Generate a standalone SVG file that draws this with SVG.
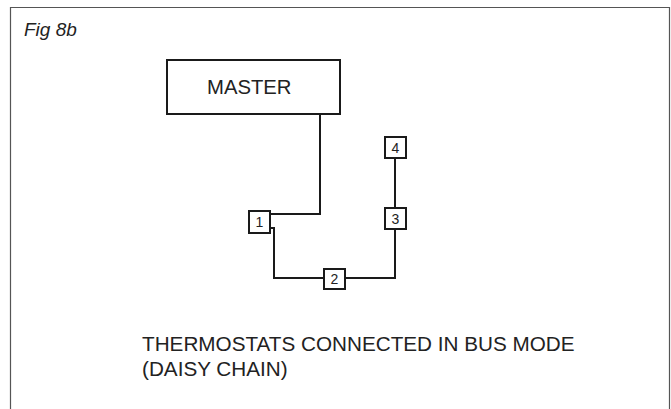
<svg xmlns="http://www.w3.org/2000/svg" width="671" height="409" viewBox="0 0 671 409">
<style>
.frame{fill:none;stroke:#555;stroke-width:1.2}
.box{fill:#fff;stroke:#1a1a1a;stroke-width:2}
.wire{fill:none;stroke:#1a1a1a;stroke-width:2}
.t{font-family:"Liberation Sans",Arial,sans-serif;fill:#222}
.num{font-family:"Liberation Sans",Arial,sans-serif;fill:#222;font-size:14px;text-anchor:middle}
</style>
<rect width="671" height="409" fill="#fff"/>
<path class="frame" d="M10.5,409 V7.5 H669.5 V409"/>
<text class="t" x="24" y="36" font-size="19" font-style="italic">Fig 8b</text>
<g id="connectors">
<path class="wire" d="M320,114 V214 H270"/>
<path class="wire" d="M270,228 H274 V278 H324"/>
<path class="wire" d="M345,278 H395 V229"/>
<path class="wire" d="M395,208 V159"/>
</g>
<g id="master">
<rect class="box" x="167" y="60" width="173" height="54"/>
<text class="t" x="207" y="94" font-size="20.3">MASTER</text>
</g>
<g id="t1">
<rect class="box" x="249" y="211" width="21" height="22"/>
<text class="num" x="259.5" y="227">1</text>
</g>
<g id="t2">
<rect class="box" x="324" y="269" width="21" height="20"/>
<text class="num" x="334.5" y="284">2</text>
</g>
<g id="t3">
<rect class="box" x="385" y="208" width="21" height="21"/>
<text class="num" x="395.5" y="223.5">3</text>
</g>
<g id="t4">
<rect class="box" x="385" y="137" width="21" height="21"/>
<text class="num" x="395.5" y="152.5">4</text>
</g>
<g id="caption">
<text class="t" x="142" y="351" font-size="20.7">THERMOSTATS CONNECTED IN BUS MODE</text>
<text class="t" x="142" y="376" font-size="20.7">(DAISY CHAIN)</text>
</g>
</svg>
